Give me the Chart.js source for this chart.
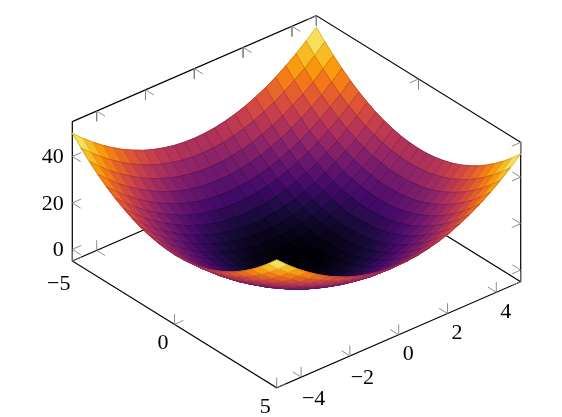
<!DOCTYPE html>
<html lang="en">
<head>
    <meta charset="UTF-8">
    <title>Surface plot</title>
    <script src="https://cdn.jsdelivr.net/npm/chart.js"></script>
    <style>
        html, body { margin: 0; padding: 0; background: #fff; }
        canvas { display: block; }
    </style>
</head>
<body>
    <canvas id="surface_chart" width="562" height="417"></canvas>

    <script>
        // sample positions along both ground axes
        const gridValues = [-5, -4.58, -4.17, -3.75, -3.33, -2.92, -2.5, -2.08, -1.67, -1.25, -0.83, -0.42, 0, 0.42, 0.83, 1.25, 1.67, 2.08, 2.5, 2.92, 3.33, 3.75, 4.17, 4.58, 5];

        // surface heights, one row per x sample
        const z00 = [50.0,46.0,42.4,39.1,36.1,33.5,31.3,29.3,27.8,26.6,25.7,25.2,25.0,25.2,25.7,26.6,27.8,29.3,31.3,33.5,36.1,39.1,42.4,46.0,50.0];
        const z01 = [46.0,42.0,38.4,35.1,32.1,29.5,27.3,25.3,23.8,22.6,21.7,21.2,21.0,21.2,21.7,22.6,23.8,25.3,27.3,29.5,32.1,35.1,38.4,42.0,46.0];
        const z02 = [42.4,38.4,34.7,31.4,28.5,25.9,23.6,21.7,20.1,18.9,18.1,17.5,17.4,17.5,18.1,18.9,20.1,21.7,23.6,25.9,28.5,31.4,34.7,38.4,42.4];
        const z03 = [39.1,35.1,31.4,28.1,25.2,22.6,20.3,18.4,16.8,15.6,14.8,14.2,14.1,14.2,14.8,15.6,16.8,18.4,20.3,22.6,25.2,28.1,31.4,35.1,39.1];
        const z04 = [36.1,32.1,28.5,25.2,22.2,19.6,17.4,15.5,13.9,12.7,11.8,11.3,11.1,11.3,11.8,12.7,13.9,15.5,17.4,19.6,22.2,25.2,28.5,32.1,36.1];
        const z05 = [33.5,29.5,25.9,22.6,19.6,17.0,14.8,12.8,11.3,10.1,9.2,8.7,8.5,8.7,9.2,10.1,11.3,12.8,14.8,17.0,19.6,22.6,25.9,29.5,33.5];
        const z06 = [31.3,27.3,23.6,20.3,17.4,14.8,12.5,10.6,9.0,7.8,6.9,6.4,6.3,6.4,6.9,7.8,9.0,10.6,12.5,14.8,17.4,20.3,23.6,27.3,31.3];
        const z07 = [29.3,25.3,21.7,18.4,15.5,12.8,10.6,8.7,7.1,5.9,5.0,4.5,4.3,4.5,5.0,5.9,7.1,8.7,10.6,12.8,15.5,18.4,21.7,25.3,29.3];
        const z08 = [27.8,23.8,20.1,16.8,13.9,11.3,9.0,7.1,5.6,4.3,3.5,3.0,2.8,3.0,3.5,4.3,5.6,7.1,9.0,11.3,13.9,16.8,20.1,23.8,27.8];
        const z09 = [26.6,22.6,18.9,15.6,12.7,10.1,7.8,5.9,4.3,3.1,2.3,1.7,1.6,1.7,2.3,3.1,4.3,5.9,7.8,10.1,12.7,15.6,18.9,22.6,26.6];
        const z10 = [25.7,21.7,18.1,14.8,11.8,9.2,6.9,5.0,3.5,2.3,1.4,0.9,0.7,0.9,1.4,2.3,3.5,5.0,6.9,9.2,11.8,14.8,18.1,21.7,25.7];
        const z11 = [25.2,21.2,17.5,14.2,11.3,8.7,6.4,4.5,3.0,1.7,0.9,0.3,0.2,0.3,0.9,1.7,3.0,4.5,6.4,8.7,11.3,14.2,17.5,21.2,25.2];
        const z12 = [25.0,21.0,17.4,14.1,11.1,8.5,6.3,4.3,2.8,1.6,0.7,0.2,0,0.2,0.7,1.6,2.8,4.3,6.3,8.5,11.1,14.1,17.4,21.0,25.0];
        const zRows = [z00, z01, z02, z03, z04, z05, z06, z07, z08, z09, z10, z11, z12, z11, z10, z09, z08, z07, z06, z05, z04, z03, z02, z01, z00];

        const xTicks = [-5, 0, 5];
        const yTicks = [-4, -2, 0, 2, 4];
        const zTicks = [0, 20, 40];

        const xMin = -5, xMax = 5, yMin = -5, yMax = 5, zMin = -5, zMax = 55;

        // inferno colormap
        const colormap = ["#000004", "#160b39", "#420a68", "#6a176e", "#932667", "#bc3754", "#dd513a", "#f37819", "#fca50a", "#f6d746", "#fcffa4"];

        function hexToRgb(hex) {
            return [1, 3, 5].map(i => parseInt(hex.slice(i, i + 2), 16));
        }

        function mapColor(t, darken) {
            const pos = Math.min(Math.max(t, 0), 1) * (colormap.length - 1);
            const lo = Math.min(Math.floor(pos), colormap.length - 2);
            const a = hexToRgb(colormap[lo]);
            const b = hexToRgb(colormap[lo + 1]);
            const rgb = a.map((v, i) => Math.round((v + (b[i] - v) * (pos - lo)) * darken));
            return `rgb(${rgb[0]},${rgb[1]},${rgb[2]})`;
        }

        // 3D to the flat chart plane (chart scales run in canvas units)
        function project(x, y, z) {
            const u = (x - xMin) / (xMax - xMin);
            const v = (y - yMin) / (yMax - yMin);
            const w = (z - zMin) / (zMax - zMin);
            return {
                x: 72.3 + u * 204.4 + v * 244,
                y: 261 + u * 126.7 - v * 106 - w * 139.4
            };
        }

        const gap = { x: NaN, y: NaN };
        const tickX = 0.41, tickY = 0.365, tickZ = 4.4;

        function tick(list, x, y, z, dx, dy, dz) {
            list.push(project(x, y, z), project(x + dx, y + dy, z + dz), gap);
        }

        const tickPoints = [];
        xTicks.forEach(x => {
            tick(tickPoints, x, yMin, zMin, 0, 0, tickZ);
            tick(tickPoints, x, yMin, zMin, 0, tickY, 0);
            tick(tickPoints, x, yMax, zMax, 0, 0, -tickZ);
            tick(tickPoints, x, yMax, zMax, 0, -tickY, 0);
            tick(tickPoints, x, yMax, zMin, 0, 0, tickZ);
            tick(tickPoints, x, yMax, zMin, 0, -tickY, 0);
        });
        yTicks.forEach(y => {
            tick(tickPoints, xMax, y, zMin, 0, 0, tickZ);
            tick(tickPoints, xMax, y, zMin, -tickX, 0, 0);
            tick(tickPoints, xMin, y, zMax, 0, 0, -tickZ);
            tick(tickPoints, xMin, y, zMax, tickX, 0, 0);
            tick(tickPoints, xMin, y, zMin, 0, 0, tickZ);
            tick(tickPoints, xMin, y, zMin, tickX, 0, 0);
        });
        zTicks.forEach(z => {
            tick(tickPoints, xMin, yMin, z, tickX, 0, 0);
            tick(tickPoints, xMin, yMin, z, 0, tickY, 0);
            tick(tickPoints, xMax, yMax, z, -tickX, 0, 0);
            tick(tickPoints, xMax, yMax, z, 0, -tickY, 0);
        });

        const boxPoints = [
            project(xMin, yMin, zMax), project(xMin, yMin, zMin), project(xMax, yMin, zMin),
            project(xMax, yMax, zMin), project(xMax, yMax, zMax), project(xMin, yMax, zMax),
            project(xMin, yMin, zMax), gap,
            project(xMin, yMin, zMin), project(xMin, yMax, zMin), project(xMax, yMax, zMin)
        ];

        // first dataset is painted last, so the cell nearest the viewer comes first
        const datasets = [];
        for (let i = gridValues.length - 2; i >= 0; i--) {
            for (let j = 0; j < gridValues.length - 1; j++) {
                const mean = (zRows[i][j] + zRows[i + 1][j] + zRows[i + 1][j + 1] + zRows[i][j + 1]) / 4;
                const outline = [
                    project(gridValues[i], gridValues[j], zRows[i][j]),
                    project(gridValues[i + 1], gridValues[j], zRows[i + 1][j]),
                    project(gridValues[i + 1], gridValues[j + 1], zRows[i + 1][j + 1]),
                    project(gridValues[i], gridValues[j + 1], zRows[i][j + 1]),
                    project(gridValues[i], gridValues[j], zRows[i][j])
                ];
                datasets.push({
                    data: outline,
                    showLine: true,
                    backgroundColor: mapColor(mean / 50, 1),
                    fill: "shape",
                    borderColor: mapColor(mean / 50, 0.8),
                    borderWidth: 0.7,
                    pointRadius: 0
                });
                // same cell in its own colour underneath, closes the white seams between cells
                datasets.push({
                    data: outline,
                    showLine: true,
                    backgroundColor: mapColor(mean / 50, 1),
                    fill: "shape",
                    borderColor: mapColor(mean / 50, 1),
                    borderWidth: 1,
                    pointRadius: 0
                });
            }
        }
        datasets.push({ data: tickPoints, showLine: true, spanGaps: false, borderColor: "#808080", borderWidth: 0.9, pointRadius: 0 });
        datasets.push({ data: boxPoints, showLine: true, spanGaps: false, borderColor: "#000", borderWidth: 1.2, pointRadius: 0 });

        function drawLabel(chart, text, point, dx, dy, align) {
            const ctx = chart.ctx;
            ctx.textAlign = align;
            ctx.fillText(text, chart.scales.x.getPixelForValue(point.x) + dx, chart.scales.y.getPixelForValue(point.y) + dy);
        }

        const axisLabels = {
            id: "axisLabels",
            afterDraw(chart) {
                const ctx = chart.ctx;
                ctx.save();
                ctx.fillStyle = "#000";
                ctx.font = '22px "Liberation Serif"';
                ctx.textBaseline = "alphabetic";
                const fmt = v => String(v).replace("-", "\u2212");
                xTicks.forEach(x => {
                    const extra = x < 0 ? 1 : 0;
                    drawLabel(chart, fmt(x), project(x, yMin, zMin), -11.5 - 2 * extra, 25 + 3.5 * extra, "center");
                });
                yTicks.forEach(y => {
                    const extra = y < 0 ? 1 : 0;
                    drawLabel(chart, fmt(y), project(xMax, y, zMin), 9.5 + 3 * extra, 25.2 + 3 * extra, "center");
                });
                zTicks.forEach(z => {
                    drawLabel(chart, fmt(z), project(xMin, yMin, z), -8.5, 7, "right");
                });
                ctx.restore();
            }
        };

        new Chart("surface_chart", {
            type: "scatter",
            data: { datasets: datasets },
            plugins: [axisLabels],
            options: {
                responsive: false,
                animation: false,
                events: [],
                layout: { padding: 0 },
                plugins: {
                    legend: { display: false },
                    tooltip: { enabled: false }
                },
                scales: {
                    x: { type: "linear", display: false, min: 0, max: 562 },
                    y: { type: "linear", display: false, min: 0, max: 417, reverse: true }
                }
            }
        });
    </script>
</body>
</html>
